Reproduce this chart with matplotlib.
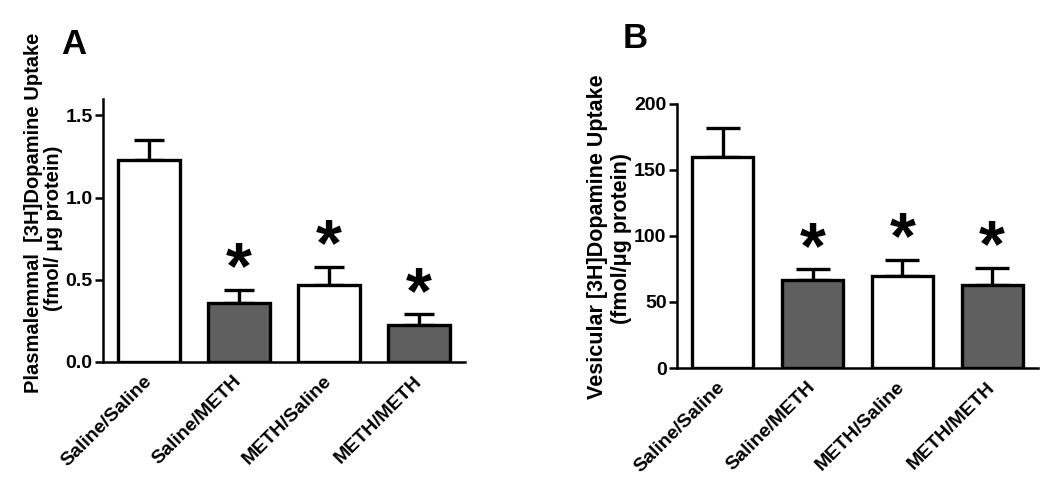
import matplotlib.pyplot as plt
import numpy as np

plt.rcParams['font.family'] = ['Liberation Sans', 'DejaVu Sans']
plt.rcParams['font.weight'] = 'bold'

groups = ['Saline/Saline', 'Saline/METH', 'METH/Saline', 'METH/METH']
fills = ['white', '#5f5f5f', 'white', '#5f5f5f']

# panel A: plasmalemmal uptake
plasma_mean = [1.23, 0.36, 0.47, 0.225]
plasma_sem = [0.12, 0.08, 0.11, 0.065]
plasma_star = [False, True, True, True]

# panel B: vesicular uptake
vesic_mean = [160, 66.5, 69.5, 63]
vesic_sem = [22, 8.5, 12.5, 13]
vesic_star = [False, True, True, True]

W, H = 1050, 490
fig = plt.figure(figsize=(W / 100, H / 100), dpi=100)


def px_axes(left, top, right, bottom):
    return fig.add_axes([left / W, 1 - bottom / H, (right - left) / W, (bottom - top) / H])


def panel(ax, means, sems, stars, ylim, yticks, ytl, capsize):
    x = np.arange(len(groups))
    ax.errorbar(x, means, yerr=[np.zeros(len(means)), sems], fmt='none',
                ecolor='black', elinewidth=2.4, capsize=capsize, capthick=2.4, zorder=1)
    ax.bar(x, means, width=0.68, color=fills, edgecolor='black', linewidth=2.4, zorder=2)
    for xi, m, s, st in zip(x, means, sems, stars):
        if st:
            ax.annotate('*', (xi, m + s), xytext=(0, 1), textcoords='offset points',
                        ha='center', va='baseline', fontsize=48, fontweight='bold')
    ax.set_xlim(-0.51, 3.51)
    ax.set_ylim(*ylim)
    ax.set_yticks(yticks)
    ax.set_yticklabels(ytl, fontsize=14, fontweight='bold')
    ax.set_xticks(x)
    ax.set_xticklabels(groups, rotation=45, ha='right', va='center',
                       rotation_mode='anchor', fontsize=14, fontweight='bold')
    ax.tick_params(axis='x', length=0, pad=12)
    ax.tick_params(axis='y', length=6, width=1.8, pad=1.5)
    for side in ['top', 'right']:
        ax.spines[side].set_visible(False)
    for side in ['left', 'bottom']:
        ax.spines[side].set_linewidth(1.8)


axA = px_axes(103, 99, 465, 362)
panel(axA, plasma_mean, plasma_sem, plasma_star, (0, 1.6),
      [0, 0.5, 1.0, 1.5], ['0.0', '0.5', '1.0', '1.5'], 10.5)

axB = px_axes(677, 104, 1038, 368)
panel(axB, vesic_mean, vesic_sem, vesic_star, (0, 200),
      [0, 50, 100, 150, 200], ['0', '50', '100', '150', '200'], 12.5)


def ftext(x, y, s, **kw):
    fig.text(x / W, 1 - y / H, s, ha='center', va='center', fontweight='bold', **kw)


ftext(34, 213, 'Plasmalemmal  [3H]Dopamine Uptake', rotation=90, fontsize=14.5)
ftext(54, 228, '(fmol/ \u03bcg protein)', rotation=90, fontsize=14.5)
ftext(597, 237, 'Vesicular [3H]Dopamine Uptake', rotation=90, fontsize=15.5)
ftext(621, 238, '(fmol/\u03bcg protein)', rotation=90, fontsize=15.5)

ftext(74, 44, 'A', fontsize=25)
ftext(635, 39, 'B', fontsize=25)

fig.savefig('out.png', dpi=100)
